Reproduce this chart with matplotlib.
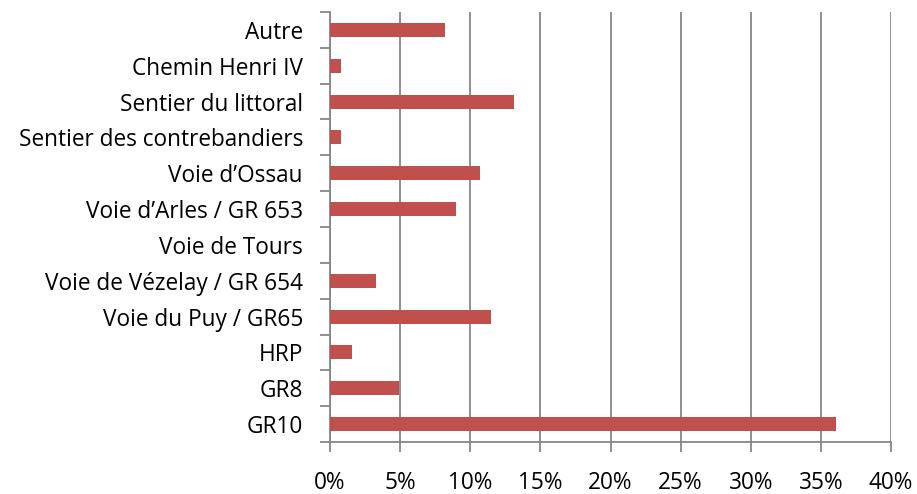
import matplotlib
matplotlib.use("Agg")
import matplotlib.pyplot as plt
import numpy as np
from matplotlib.ticker import FuncFormatter

categories = ["GR10", "GR8", "HRP", "Voie du Puy / GR65", "Voie de Vézelay / GR 654",
              "Voie de Tours", "Voie d’Arles / GR 653", "Voie d’Ossau",
              "Sentier des contrebandiers", "Sentier du littoral", "Chemin Henri IV", "Autre"]
values = [36.1, 4.9, 1.6, 11.5, 3.3, 0.0, 9.0, 10.7, 0.8, 13.1, 0.8, 8.2]
x_ticks = [0, 5, 10, 15, 20, 25, 30, 35, 40]

plt.rcParams['font.family'] = ['Open Sans', 'DejaVu Sans']
grey = '#868686'

fig = plt.figure(figsize=(9.17, 4.94), dpi=100)
ax = fig.add_axes([330/917, 52/494, 561/917, 430/494])

y = np.arange(len(categories))
ax.barh(y, values, height=0.39, color='#C0504D', edgecolor='none', zorder=3)

ax.set_xlim(0, 40)
ax.set_ylim(-0.5, len(categories) - 0.5)
ax.set_xticks(x_ticks)
ax.xaxis.set_major_formatter(FuncFormatter(lambda v, p: f"{int(v)}%"))
ax.set_yticks(y)
ax.set_yticklabels(categories)
ax.set_yticks(np.arange(-0.5, len(categories), 1.0), minor=True)

ax.grid(axis='x', color=grey, linewidth=1.3, zorder=0)
ax.set_axisbelow(True)

for s in ['top', 'right']:
    ax.spines[s].set_visible(False)
for s in ['left', 'bottom']:
    ax.spines[s].set_color(grey)
    ax.spines[s].set_linewidth(1.3)

fs = 16.3
ax.tick_params(axis='y', which='major', length=0, pad=19.5, labelsize=fs, colors='black')
ax.tick_params(axis='y', which='minor', length=7, width=1.3, color=grey)
ax.tick_params(axis='x', which='major', length=7, width=1.3, color=grey, pad=14,
               labelsize=fs, labelcolor='black')

fig.savefig("out.png", dpi=100)
